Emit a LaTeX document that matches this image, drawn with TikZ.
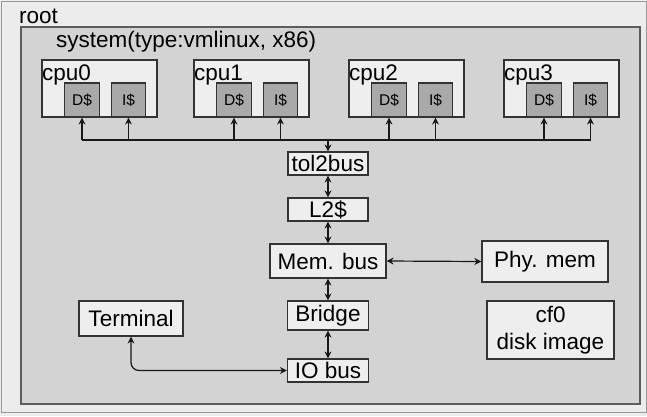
\documentclass[tikz,border=0pt]{standalone}
\usepackage{fontspec}
\setmainfont{Liberation Sans}
\usetikzlibrary{arrows.meta}
\definecolor{rootfill}{HTML}{ECECEC}
\definecolor{sysfill}{HTML}{D3D3D3}
\definecolor{boxfill}{HTML}{EEEEEE}
\definecolor{cachefill}{HTML}{A9A9A9}
\definecolor{edge}{HTML}{333333}
\tikzset{
  big/.style={font=\fontsize{22.5}{27}\selectfont},
  small/.style={font=\fontsize{15.5}{18}\selectfont},
  blk/.style={draw=edge, line width=1.2pt, fill=boxfill, inner sep=0pt, big},
  cpubox/.style={draw=edge, line width=1.2pt, fill=boxfill, minimum width=115pt, minimum height=57pt, inner sep=0pt},
  cache/.style={draw=edge, line width=1.2pt, fill=cachefill, minimum height=34pt, minimum width=34.5pt, inner sep=0pt, small},
  conn/.style={line width=1.2pt, black!90},
  tip/.style={-{Stealth[length=7pt,width=7pt]}},
  dtip/.style={{Stealth[length=7pt,width=7pt]}-{Stealth[length=7pt,width=7pt]}},
}
\begin{document}
\begin{tikzpicture}[x=1pt,y=-1pt]
\useasboundingbox (0,0) rectangle (647,416);
\fill[rootfill] (0,0) rectangle (647,416);
\draw[draw=gray!80, line width=1pt] (1.5,1.5) rectangle (646,412.5);
\node[anchor=base west, big, inner sep=0pt] (rootlbl) at (19,23) {root};
\draw[draw=edge!80, line width=1.6pt, fill=sysfill] (21,27) rectangle (640,404);
\node[anchor=base west, big, inner sep=0pt] (syslbl) at (56,47) {system(type:vmlinux, x86)};

\foreach \i/\l in {0/42,1/194,2/349,3/504}{
  \node[cpubox] (cpu\i) at (\l+57.5,88.5) {};
  \node[anchor=base west, big, inner sep=0pt] (cpulbl\i) at (\l,80) {cpu\i};
  \node[cache] (D\i) at (\l+40,100) {D\$};
  \node[cache] (I\i) at (\l+86.5,100) {I\$};
}

\node[blk, minimum width=80pt, minimum height=23pt] (tol2) at (328,163.5) {tol2bus};
\node[blk, minimum width=80pt, minimum height=23pt] (L2) at (328,209.5) {L2\$};
\node[blk, minimum width=116pt, minimum height=34pt] (mem) at (328,261) {Mem. bus};
\node[blk, minimum width=126pt, minimum height=41pt] (phy) at (545,261.5) {Phy. mem};
\node[blk, minimum width=81pt, minimum height=29pt] (bridge) at (328,315.5) {Bridge};
\node[blk, minimum width=81pt, minimum height=23pt] (io) at (328,370.5) {IO bus};
\node[blk, minimum width=127pt, minimum height=58pt, align=center] (cf) at (550.5,330) {cf0\\disk image};
\node[blk, minimum width=104pt, minimum height=35pt] (term) at (131,318.5) {Terminal};

\coordinate (bus) at (0,140);
\draw[conn] (D0.south |- bus) -- (I3.south |- bus);
\foreach \i in {0,1,2,3}{
  \draw[conn, tip] (D\i.south |- bus) -- (D\i.south);
  \draw[conn, tip] (I\i.south |- bus) -- (I\i.south);
}
\draw[conn, tip] (tol2.north |- bus) -- (tol2.north);
\draw[conn, dtip] (tol2.south) -- (L2.north);
\draw[conn, dtip] (L2.south) -- (mem.north);
\draw[conn, dtip] (mem.south) -- (bridge.north);
\draw[conn, dtip] (bridge.south) -- (io.north);
\draw[conn, dtip] (mem.east) -- (phy.west);
\draw[conn, dtip, rounded corners=8pt] (term.south) |- (io.west);
\end{tikzpicture}
\end{document}
